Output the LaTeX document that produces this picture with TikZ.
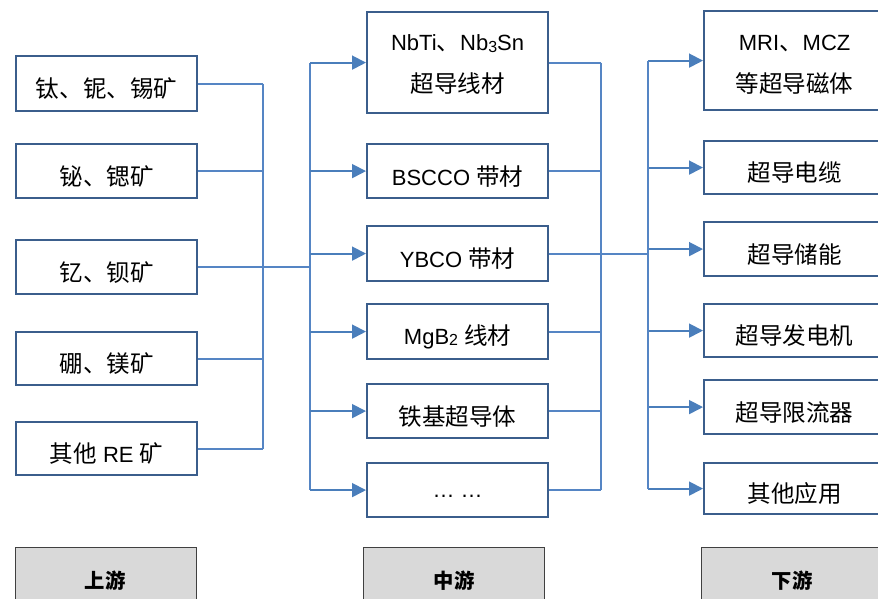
\documentclass[tikz,border=0pt]{standalone}
\usepackage{fontspec}
\setmainfont{Liberation Sans}
\newfontfamily\cjk[Scale=1.07]{Noto Sans CJK SC}
\usetikzlibrary{arrows.meta}
\definecolor{boxc}{HTML}{3B5E8C}
\definecolor{linec}{HTML}{5585C4}
\definecolor{arrc}{HTML}{4A7EBB}
\definecolor{grayc}{HTML}{D9D9D9}
\definecolor{tierc}{HTML}{404040}
\begin{document}
\begin{tikzpicture}[x=1pt,y=-1pt,
 box/.style={draw=boxc,line width=2.2pt,minimum width=181pt,inner sep=0pt,fill=white,anchor=north west},
 conn/.style={draw=linec,line width=1.8pt},
 arr/.style={draw=arrc,line width=1.8pt,-{Triangle[length=14pt,width=14pt]}},
 lbl/.style={font=\fontsize{22}{42}\selectfont,align=center,inner sep=0pt},
 tierbox/.style={draw=tierc,line width=1.2pt,fill=grayc,minimum width=181pt,minimum height=70pt,anchor=north west},
 tierlbl/.style={font=\cjk\bfseries\fontsize{19}{24}\selectfont,inner sep=0pt}
]
\useasboundingbox (0,0) rectangle (878,598);
\clip (0,0) rectangle (878,598);
% left column
\node[box,minimum height=55pt] (L1) at (15,55) {};
\node[box,minimum height=54pt] (L2) at (15,143) {};
\node[box,minimum height=54pt] (L3) at (15,239) {};
\node[box,minimum height=53pt] (L4) at (15,331) {};
\node[box,minimum height=53pt] (L5) at (15,421) {};
% middle column
\node[box,minimum height=101pt] (M1) at (366,11) {};
\node[box,minimum height=54pt] (M2) at (366,143) {};
\node[box,minimum height=55pt] (M3) at (366,225) {};
\node[box,minimum height=55pt] (M4) at (366,303) {};
\node[box,minimum height=54pt] (M5) at (366,383) {};
\node[box,minimum height=54pt] (M6) at (366,462) {};
% right column
\node[box,minimum height=99pt] (R1) at (703,10) {};
\node[box,minimum height=53pt] (R2) at (703,140) {};
\node[box,minimum height=54pt] (R3) at (703,221) {};
\node[box,minimum height=53pt] (R4) at (703,303) {};
\node[box,minimum height=54pt] (R5) at (703,379) {};
\node[box,minimum height=51pt] (R6) at (703,462) {};
% tier boxes
\node[tierbox] (T1) at (15,547) {};
\node[tierbox] (T2) at (363,547) {};
\node[tierbox] (T3) at (701,547) {};
% labels
\node[lbl] (tL1) at ([yshift=-5pt]L1.center) {\cjk 钛、铌、锡矿};
\node[lbl] (tL2) at ([yshift=-5pt]L2.center) {\cjk 铋、锶矿};
\node[lbl] (tL3) at ([yshift=-5pt]L3.center) {\cjk 钇、钡矿};
\node[lbl] (tL4) at ([yshift=-5pt]L4.center) {\cjk 硼、镁矿};
\node[lbl] (tL5) at ([yshift=-5pt]L5.center) {{\cjk 其他} RE {\cjk 矿}};
\node[lbl] (tM1) at ([yshift=-2pt]M1.center) {NbTi{\cjk 、}Nb\raisebox{-0.15ex}{\fontsize{16}{16}\selectfont 3}Sn\\{\cjk 超导线材}};
\node[lbl] (tM2) at ([yshift=-5pt]M2.center) {BSCCO {\cjk 带材}};
\node[lbl] (tM3) at ([yshift=-5pt]M3.center) {YBCO {\cjk 带材}};
\node[lbl] (tM4) at ([yshift=-5pt]M4.center) {MgB\raisebox{-0.15ex}{\fontsize{16}{16}\selectfont 2} {\cjk 线材}};
\node[lbl] (tM5) at ([yshift=-5pt]M5.center) {\cjk 铁基超导体};
\node[lbl] (tM6) at ([yshift=-6pt]M6.center) {… …};
\node[lbl] (tR1) at ([yshift=-4pt]R1.center) {MRI{\cjk 、}MCZ\\{\cjk 等超导磁体}};
\node[lbl] (tR2) at ([yshift=-5pt]R2.center) {\cjk 超导电缆};
\node[lbl] (tR3) at ([yshift=-5pt]R3.center) {\cjk 超导储能};
\node[lbl] (tR4) at ([yshift=-5pt]R4.center) {\cjk 超导发电机};
\node[lbl] (tR5) at ([yshift=-5pt]R5.center) {\cjk 超导限流器};
\node[lbl] (tR6) at ([yshift=-5pt]R6.center) {\cjk 其他应用};
\node[tierlbl] (tT1) at (105,581) {上游};
\node[tierlbl] (tT2) at (454,581) {中游};
\node[tierlbl] (tT3) at (792,581) {下游};
% buses
\coordinate (bL) at (263,0);
\coordinate (bM) at (310,0);
\coordinate (bR) at (601,0);
\coordinate (bA) at (648,0);
\foreach \i in {1,...,5}{\draw[conn] (L\i.east) -- (L\i.east -| bL);}
\draw[conn] (L1.east -| bL) -- (L5.east -| bL);
\draw[conn] (L3.east -| bL) -- (L3.east -| bM);
\draw[conn] (M1.west -| bM) -- (M6.west -| bM);
\foreach \i in {1,...,6}{
  \draw[arr] (M\i.west -| bM) -- (M\i.west);
  \draw[conn] (M\i.east) -- (M\i.east -| bR);
  \draw[arr] (R\i.west -| bA) -- (R\i.west);
}
\draw[conn] (M1.east -| bR) -- (M6.east -| bR);
\draw[conn] (M3.east -| bR) -- (M3.east -| bA);
\draw[conn] (R1.west -| bA) -- (R6.west -| bA);
\end{tikzpicture}
\end{document}
